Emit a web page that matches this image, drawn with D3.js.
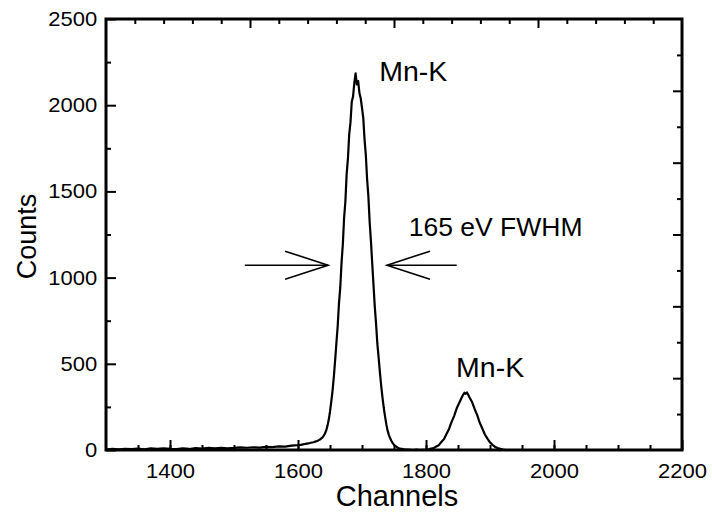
<!DOCTYPE html>
<html>
<head>
<meta charset="utf-8">
<script src="https://cdn.jsdelivr.net/npm/d3@7"></script>
<style>
  html, body { margin: 0; padding: 0; background: #fff; }
  svg { display: block; }
  text { font-family: Arial, "Liberation Sans", sans-serif; fill: #000; }
</style>
</head>
<body>
<svg id="chart" width="712" height="520"></svg>
<script>
// ---- data ----
const channels = [
  1300,1310,1320,1330,1340,1350,1360,1370,1380,1390,1400,1410,1420,1430,1440,1450,1460,1470,1480,1490,
  1500,1510,1520,1530,1540,1550,1560,1570,1580,1590,
  1600,1604,1608,1612,1616,1620,1624,1628,
  1630,1632,1634,1636,1638,1640,1642,1644,1646,1648,1650,1652,1654,1656,1658,1660,1662,1664,1666,1668,
  1670,1672,1674,1676,1678,1680,1682,1684,1686,1688,1690,1692,1694,1696,1698,1700,1702,1704,1706,1708,
  1710,1712,1714,1716,1718,1720,1722,1724,1726,1728,1730,1732,1734,1736,1738,1740,1742,1744,1746,1748,
  1750,1752,1754,1756,1758,1760,1764,1768,1772,1776,1780,1785,1790,1795,
  1800,1804,1808,1812,1816,1820,1824,1828,1832,1836,1840,1844,1848,1852,1856,1858,1860,1862,1864,1866,
  1868,1872,1876,1880,1884,1888,1892,1896,1900,1904,1908,1912,1916,1920,1924,1930,1950,2000,2100,2200
];
const counts = [
  3,6,4,7,5,8,4,9,6,10,7,5,9,6,11,8,12,9,13,10,
  12,15,13,16,14,18,17,21,20,25,
  28,30,33,36,38,42,45,50,
  52,56,60,66,72,82,94,112,140,175,222,280,345,425,520,620,718,850,940,1085,
  1190,1345,1440,1600,1690,1830,1900,2020,2050,2130,2185,2120,2140,2070,2040,1985,1925,1800,1710,1570,
  1470,1320,1210,1080,955,830,730,615,535,450,372,305,245,195,150,112,88,68,52,40,
  30,23,18,13,10,8,5,3,2,1,0,2,0,1,
  2,4,8,11,20,28,46,63,93,122,163,198,242,274,306,320,332,326,334,320,
  305,278,238,202,158,125,90,66,44,30,18,11,7,3,1,0,0,0,0,0
];
const xTicks = [1400, 1600, 1800, 2000, 2200];
const xMinor = [1350, 1400, 1450, 1500, 1550, 1600, 1650, 1700, 1750, 1800, 1850, 1900, 1950, 2000, 2050, 2100, 2150];
const yTicks = [0, 500, 1000, 1500, 2000, 2500];
const yMinor = [250, 750, 1250, 1750, 2250];
const topMajor = [1, 2, 3];
const topMinor = [0.2,0.4,0.6,0.8,1.2,1.4,1.6,1.8,2.2,2.4,2.6,2.8,3.2,3.4,3.6,3.8];
const rightMajor = [1, 2, 3, 4, 5];
const rightMinor = [0.5, 1.5, 2.5, 3.5, 4.5, 5.5];
const peakLabels = [
  {text: "Mn-K", ch: 1727, c: 2140, size: 28.5},
  {text: "165 eV FWHM", ch: 1773, c: 1241, size: 26.5},
  {text: "Mn-K", ch: 1847, c: 423, size: 28.5}
];
const fwhmLevel = 1072;
const arrowLeft = [1517, 1647];
const arrowRight = [1848, 1739];

// ---- layout ----
const L = 106, R = 682, T = 19, B = 450;
const svg = d3.select("#chart");
const x = d3.scaleLinear().domain([1300, 2200]).range([L, R]);
const y = d3.scaleLinear().domain([0, 2500]).range([B, T]);
const xTop = d3.scaleLinear().domain([0, 4]).range([L, R]);
const yRight = d3.scaleLinear().domain([0, 6]).range([B, T]);

function styleAxis(g) {
  g.select(".domain").remove();
  g.selectAll(".tick line").attr("stroke", "#000").attr("stroke-width", 2);
  g.selectAll(".tick text").attr("font-size", 20).attr("fill", "#000")
    .attr("font-family", "Arial, 'Liberation Sans', sans-serif")
    .attr("transform", "scale(1.1,1)");
}

// data line
const data = channels.map((c, i) => ({c, v: counts[i]}));
svg.append("path")
  .datum(data)
  .attr("fill", "none")
  .attr("stroke", "#000")
  .attr("stroke-width", 2.2)
  .attr("stroke-linejoin", "round")
  .attr("d", d3.line().x(d => x(d.c)).y(d => y(d.v)));

// bottom axis
svg.append("g").attr("transform", `translate(0,${B})`)
  .call(d3.axisBottom(x).tickValues(xMinor).tickSize(-5).tickFormat(""))
  .call(styleAxis);
svg.append("g").attr("transform", `translate(0,${B})`)
  .call(d3.axisBottom(x).tickValues(xTicks).tickSize(-10).tickPadding(14).tickFormat(d3.format("d")))
  .call(styleAxis);
// left axis
svg.append("g").attr("transform", `translate(${L},0)`)
  .call(d3.axisLeft(y).tickValues(yMinor).tickSize(-5).tickFormat(""))
  .call(styleAxis);
svg.append("g").attr("transform", `translate(${L},0)`)
  .call(d3.axisLeft(y).tickValues(yTicks).tickSize(-10).tickPadding(8).tickFormat(d3.format("d")))
  .call(styleAxis);
// top axis (unlabelled)
svg.append("g").attr("transform", `translate(0,${T})`)
  .call(d3.axisTop(xTop).tickValues(topMinor).tickSize(-5).tickFormat(""))
  .call(styleAxis);
svg.append("g").attr("transform", `translate(0,${T})`)
  .call(d3.axisTop(xTop).tickValues(topMajor).tickSize(-9).tickFormat(""))
  .call(styleAxis);
// right axis (unlabelled)
svg.append("g").attr("transform", `translate(${R},0)`)
  .call(d3.axisRight(yRight).tickValues(rightMinor).tickSize(-5).tickFormat(""))
  .call(styleAxis);
svg.append("g").attr("transform", `translate(${R},0)`)
  .call(d3.axisRight(yRight).tickValues(rightMajor).tickSize(-9).tickFormat(""))
  .call(styleAxis);

// frame
svg.append("rect")
  .attr("x", L).attr("y", T).attr("width", R - L).attr("height", B - T)
  .attr("fill", "none").attr("stroke", "#000").attr("stroke-width", 3);

// axis titles
svg.append("text").attr("x", 397).attr("y", 506)
  .attr("text-anchor", "middle").attr("font-size", 29).text("Channels");
svg.append("text").attr("transform", `translate(36,${(T + B) / 2 + 2}) rotate(-90)`)
  .attr("text-anchor", "middle").attr("font-size", 27).text("Counts");

// annotations
peakLabels.forEach(p => {
  svg.append("text").attr("x", x(p.ch)).attr("y", y(p.c))
    .attr("font-size", p.size).text(p.text);
});

// FWHM arrows
function arrow(x1, x2) {
  const yy = y(fwhmLevel);
  const xa = x(x1), xb = x(x2);
  const dir = Math.sign(xb - xa);
  const g = svg.append("g").attr("stroke", "#000").attr("stroke-width", 1.6).attr("fill", "none");
  g.append("line").attr("x1", xa).attr("y1", yy).attr("x2", xb).attr("y2", yy);
  g.append("path").attr("d", `M${xb - dir * 43},${yy - 14} L${xb},${yy} L${xb - dir * 43},${yy + 14}`);
}
arrow(arrowLeft[0], arrowLeft[1]);
arrow(arrowRight[0], arrowRight[1]);
</script>
</body>
</html>
